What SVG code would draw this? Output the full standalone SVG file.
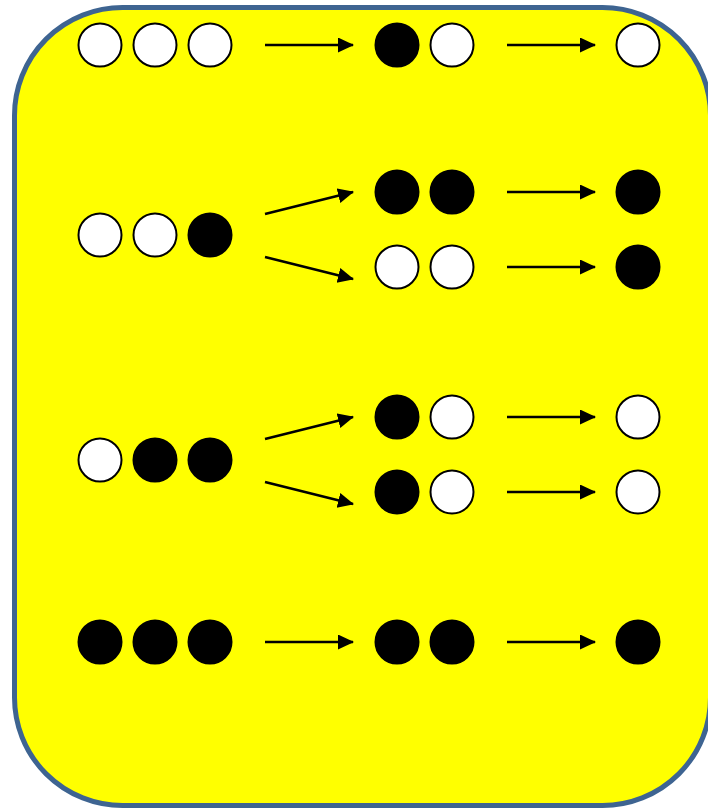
<svg xmlns="http://www.w3.org/2000/svg" width="708" height="810" viewBox="0 0 708 810">
  <style>
    .frame { fill: #FFFF00; stroke: #3E6491; stroke-width: 5; }
    .w { fill: #FFFFFF; stroke: #000000; stroke-width: 2; }
    .b { fill: #000000; stroke: #000000; stroke-width: 2; }
    .arr { stroke: #000000; stroke-width: 2.5; fill: none; marker-end: url(#head); }
  </style>
  <defs>
    <marker id="head" markerUnits="userSpaceOnUse" markerWidth="17" markerHeight="16" refX="15" refY="7.5" orient="auto">
      <path d="M0,0 L16,7.5 L0,15 Z" fill="#000000"/>
    </marker>
  </defs>

  <rect class="frame" x="14.5" y="7.5" width="696" height="798" rx="108" ry="108"/>

  <!-- input states -->
  <g id="in-www">
    <circle class="w" cx="100" cy="45" r="21.5"/>
    <circle class="w" cx="155" cy="45" r="21.5"/>
    <circle class="w" cx="210" cy="45" r="21.5"/>
  </g>
  <g id="in-wwb">
    <circle class="w" cx="100" cy="235" r="21.5"/>
    <circle class="w" cx="155" cy="235" r="21.5"/>
    <circle class="b" cx="210" cy="235" r="21.5"/>
  </g>
  <g id="in-wbb">
    <circle class="w" cx="100" cy="460" r="21.5"/>
    <circle class="b" cx="155" cy="460" r="21.5"/>
    <circle class="b" cx="210" cy="460" r="21.5"/>
  </g>
  <g id="in-bbb">
    <circle class="b" cx="100" cy="642" r="21.5"/>
    <circle class="b" cx="155" cy="642" r="21.5"/>
    <circle class="b" cx="210" cy="642" r="21.5"/>
  </g>

  <!-- intermediate pairs -->
  <g id="mid-bw-1">
    <circle class="b" cx="397" cy="45" r="21.5"/>
    <circle class="w" cx="452" cy="45" r="21.5"/>
  </g>
  <g id="mid-bb-2">
    <circle class="b" cx="397" cy="192" r="21.5"/>
    <circle class="b" cx="452" cy="192" r="21.5"/>
  </g>
  <g id="mid-ww-2">
    <circle class="w" cx="397" cy="267" r="21.5"/>
    <circle class="w" cx="452" cy="267" r="21.5"/>
  </g>
  <g id="mid-bw-3a">
    <circle class="b" cx="397" cy="417" r="21.5"/>
    <circle class="w" cx="452" cy="417" r="21.5"/>
  </g>
  <g id="mid-bw-3b">
    <circle class="b" cx="397" cy="492" r="21.5"/>
    <circle class="w" cx="452" cy="492" r="21.5"/>
  </g>
  <g id="mid-bb-4">
    <circle class="b" cx="397" cy="642" r="21.5"/>
    <circle class="b" cx="452" cy="642" r="21.5"/>
  </g>

  <!-- results -->
  <g id="out-1"><circle class="w" cx="638" cy="45" r="21.5"/></g>
  <g id="out-2a"><circle class="b" cx="638" cy="192" r="21.5"/></g>
  <g id="out-2b"><circle class="b" cx="638" cy="267" r="21.5"/></g>
  <g id="out-3a"><circle class="w" cx="638" cy="417" r="21.5"/></g>
  <g id="out-3b"><circle class="w" cx="638" cy="492" r="21.5"/></g>
  <g id="out-4"><circle class="b" cx="638" cy="642" r="21.5"/></g>

  <!-- connectors -->
  <g id="connectors">
    <line class="arr" x1="265" y1="45" x2="353" y2="45"/>
    <line class="arr" x1="265" y1="214" x2="353" y2="192"/>
    <line class="arr" x1="265" y1="257" x2="353" y2="279"/>
    <line class="arr" x1="265" y1="439" x2="353" y2="417"/>
    <line class="arr" x1="265" y1="482" x2="353" y2="504"/>
    <line class="arr" x1="265" y1="642" x2="353" y2="642"/>

    <line class="arr" x1="507" y1="45" x2="595" y2="45"/>
    <line class="arr" x1="507" y1="192" x2="595" y2="192"/>
    <line class="arr" x1="507" y1="267" x2="595" y2="267"/>
    <line class="arr" x1="507" y1="417" x2="595" y2="417"/>
    <line class="arr" x1="507" y1="492" x2="595" y2="492"/>
    <line class="arr" x1="507" y1="642" x2="595" y2="642"/>
  </g>
</svg>
